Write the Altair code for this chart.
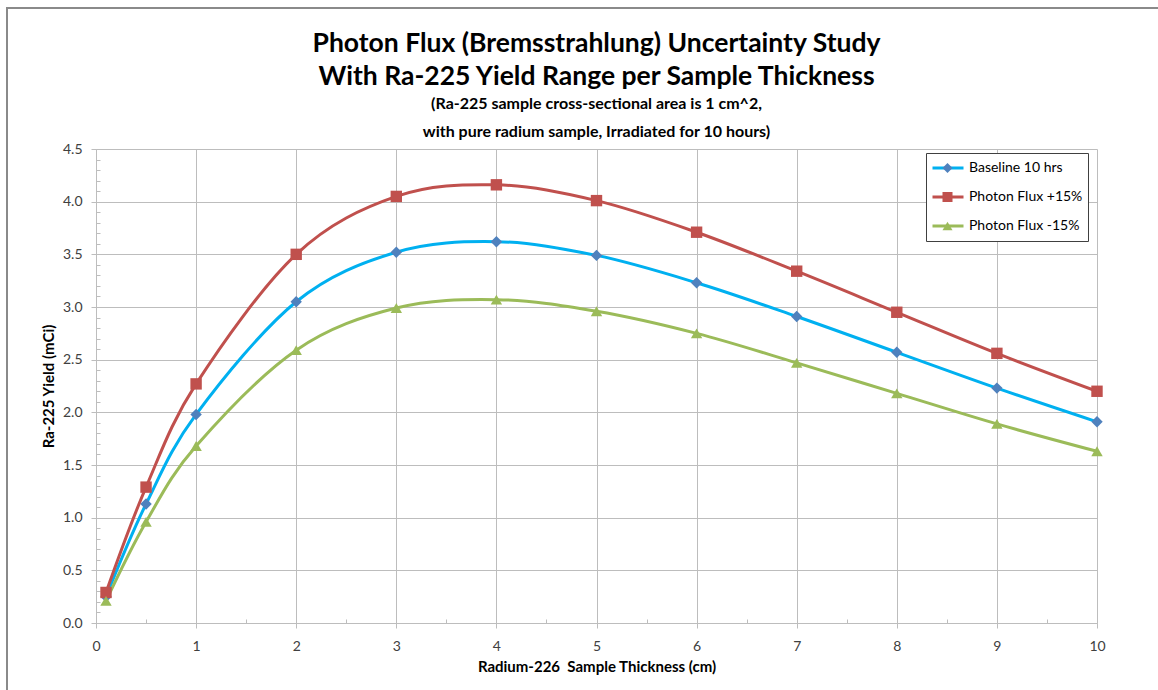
import altair as alt
import pandas as pd

thickness = [0.1, 0.5, 1, 2, 3, 4, 5, 6, 7, 8, 9, 10]
baseline = [0.25, 1.13, 1.98, 3.05, 3.52, 3.62, 3.49, 3.23, 2.91, 2.57, 2.23, 1.91]
plus15 = [0.29, 1.29, 2.27, 3.50, 4.05, 4.16, 4.01, 3.71, 3.34, 2.95, 2.56, 2.20]
minus15 = [0.21, 0.96, 1.68, 2.59, 2.99, 3.07, 2.96, 2.75, 2.47, 2.18, 1.89, 1.63]

series_names = ["Baseline 10 hrs", "Photon Flux +15%", "Photon Flux -15%"]
line_colors = ["#00B0F0", "#C0504D", "#9BBB59"]
marker_colors = ["#4F81BD", "#C0504D", "#9BBB59"]
marker_shapes = ["diamond", "square", "triangle-up"]

x_ticks = [0, 1, 2, 3, 4, 5, 6, 7, 8, 9, 10]
y_ticks = [0.0, 0.5, 1.0, 1.5, 2.0, 2.5, 3.0, 3.5, 4.0, 4.5]
x_minor = [i * 0.5 for i in range(21)]
y_minor = [round(i * 0.1, 1) for i in range(46)]

rows = []
for name, vals in zip(series_names, [baseline, plus15, minus15]):
    for t, v in zip(thickness, vals):
        rows.append({"series": name, "thickness": t, "yield": v})
df = pd.DataFrame(rows)

FONT = "Lato"
GRID = "#BDBDBD"
X_DOM = alt.Scale(domain=[0, 10], nice=False, zero=False)
Y_DOM = alt.Scale(domain=[0, 4.5], nice=False)

base = alt.Chart(df)

lines = base.mark_line(interpolate="cardinal", strokeWidth=3).encode(
    x=alt.X("thickness:Q", scale=X_DOM,
            axis=alt.Axis(values=x_ticks, title="Radium-226\u00a0 Sample Thickness (cm)",
                          grid=True, gridColor=GRID, domainColor=GRID, tickColor=GRID,
                          tickSize=5, labelPadding=11, titlePadding=6, labelFlush=False,
                          orient="bottom")),
    y=alt.Y("yield:Q", scale=Y_DOM,
            axis=alt.Axis(values=y_ticks, format=".1f", title="Ra-225 Yield (mCi)",
                          grid=True, gridColor=GRID, domainColor=GRID, tickColor=GRID,
                          tickSize=5, labelPadding=9, titlePadding=6, labelFlush=False,
                          orient="left")),
    color=alt.Color("series:N", scale=alt.Scale(domain=series_names, range=line_colors),
                    legend=alt.Legend(title=None, orient="none", legendX=830, legendY=4,
                                      symbolType="stroke", symbolSize=961, symbolStrokeWidth=3,
                                      labelFont=FONT, labelFontSize=14, labelColor="#000000",
                                      labelOffset=4, padding=5, rowPadding=9, clipHeight=20,
                                      fillColor="white", strokeColor="#404040", zindex=1)),
    detail="series:N",
)

legend2 = alt.Legend(title=None, orient="none", legendX=839.5, legendY=4,
                     symbolSize=100, symbolStrokeWidth=0,
                     labelFont=FONT, labelFontSize=14, labelExpr="''",
                     labelOffset=4, padding=5, rowPadding=9, clipHeight=20, zindex=2)

points = base.mark_point(filled=True, size=130, opacity=1, strokeWidth=0).encode(
    x=alt.X("thickness:Q", scale=X_DOM, axis=None),
    y=alt.Y("yield:Q", scale=Y_DOM, axis=None),
    fill=alt.Fill("series:N", scale=alt.Scale(range=marker_colors), legend=legend2),
    shape=alt.Shape("series:N", scale=alt.Scale(range=marker_shapes), legend=legend2),
)

minor = base.mark_point(opacity=0).encode(
    x=alt.X("thickness:Q", scale=X_DOM,
            axis=alt.Axis(values=x_minor, labels=False, grid=False, domain=False, title=None,
                          tickSize=4, tickColor=GRID, offset=-4, orient="bottom")),
    y=alt.Y("yield:Q", scale=Y_DOM,
            axis=alt.Axis(values=y_minor, labels=False, grid=False, domain=False, title=None,
                          tickSize=4, tickColor=GRID, offset=-4, orient="left")),
)

frame = alt.Chart(pd.DataFrame({"k": [0]})).mark_rect(
    fill="white", fillOpacity=0, stroke="#8A8A8A", strokeWidth=2
).encode(
    x=alt.value(-89), x2=alt.value(1200), y=alt.value(-141), y2=alt.value(700)
)

chart = alt.layer(frame, lines, points, minor).resolve_axis(
    x="independent", y="independent"
).properties(
    width=1001,
    height=474,
    autosize=alt.AutoSizeParams(type="none"),
    padding={"left": 96, "top": 149, "right": 61, "bottom": 67},
    title=alt.TitleParams(
        text=["Photon Flux (Bremsstrahlung) Uncertainty Study",
              "With Ra-225 Yield Range per Sample Thickness"],
        subtitle=["(Ra-225 sample cross-sectional area is 1 cm^2,",
                  "with pure radium sample, Irradiated for 10 hours)"],
        font=FONT, fontSize=26.5, fontWeight="bold", color="#000000", lineHeight=33,
        subtitleFont=FONT, subtitleFontSize=16, subtitleFontWeight="bold",
        subtitleColor="#000000", subtitleLineHeight=28, subtitlePadding=6,
        anchor="middle", frame="group", offset=-133,
    ),
).configure_view(stroke=None).configure_axis(
    labelFont=FONT, labelFontSize=14, labelColor="#404040",
    titleFont=FONT, titleFontSize=15, titleFontWeight="bold", titleColor="#000000",
    domainWidth=1, gridWidth=1,
)

chart.save("out.html", embed_options={"renderer": "svg", "actions": False})
